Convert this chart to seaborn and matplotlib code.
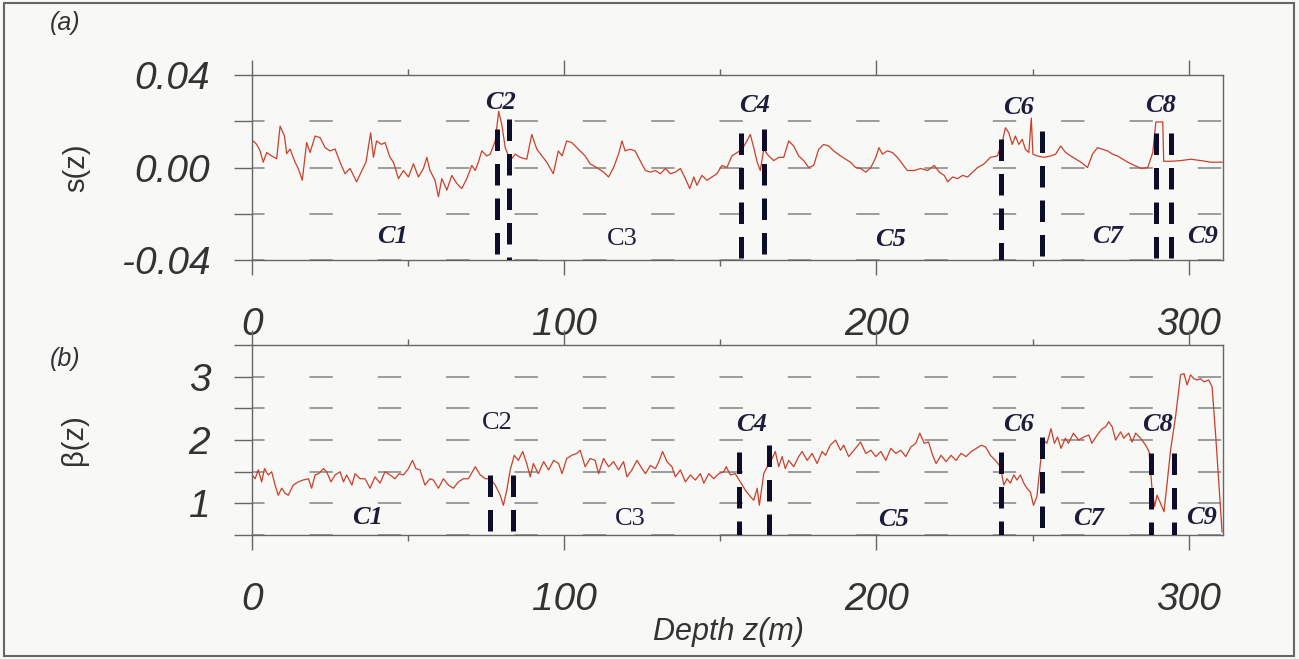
import matplotlib
matplotlib.use("Agg")
import matplotlib.pyplot as plt
import seaborn as sns
from matplotlib.patches import Rectangle

sns.set_style("ticks")
plt.rcParams['font.family'] = ['Liberation Sans', 'DejaVu Sans']

# (a) s(z)
depth_a = [0.0, 0.4, 1.5, 2.6, 3.6, 4.7, 6.3, 7.9, 9.0, 10.4, 11.1, 12.2, 13.8, 14.8, 16.1, 17.5,
           18.6, 20.2, 21.8, 23.4, 25.0, 26.6, 28.2, 29.8, 31.4, 33.5, 35.2, 36.5, 38.0, 38.9, 39.9,
           41.5, 42.6, 44.2, 45.3, 46.9, 48.5, 50.1, 51.7, 53.3, 54.9, 56.0, 57.0, 58.6, 59.7, 60.8,
           62.4, 64.0, 65.6, 67.2, 68.8, 70.4, 71.5, 72.5, 73.6, 75.2, 76.3, 77.9, 79.0, 80.0, 81.1,
           82.7, 84.3, 85.9, 88.0, 89.6, 91.2, 92.8, 94.4, 96.5, 98.1, 99.3, 100.8, 102.4, 103.5,
           105.1, 106.7, 108.3, 110.4, 112.6, 114.2, 115.8, 117.4, 118.5, 119.5, 121.1, 122.7, 124.3,
           126.0, 127.6, 129.2, 130.8, 132.4, 134.0, 135.6, 137.2, 138.8, 140.2, 141.5, 142.5, 144.1,
           145.7, 147.3, 148.9, 150.5, 152.1, 153.7, 155.4, 157.0, 158.5, 159.6, 160.7, 161.8, 162.8,
           163.9, 165.5, 167.1, 168.7, 170.3, 171.9, 173.5, 175.1, 176.7, 178.3, 179.9, 181.5, 183.1,
           184.7, 186.3, 188.5, 190.1, 191.7, 193.3, 194.9, 196.6, 198.2, 199.8, 200.8, 201.9, 203.5,
           205.1, 206.7, 208.3, 209.9, 212.1, 214.2, 216.4, 218.5, 220.1, 221.7, 222.8, 224.4, 226.0,
           227.6, 229.2, 230.8, 232.4, 234.4, 236.5, 238.7, 240.3, 241.3, 242.4, 243.5, 244.5, 245.6,
           246.7, 247.7, 248.8, 249.6, 250.1, 251.5, 253.7, 255.8, 257.4, 259.0, 260.6, 262.2, 263.9,
           265.5, 267.6, 269.2, 270.8, 272.4, 274.0, 275.6, 277.2, 278.9, 280.5, 282.6, 284.8, 286.9,
           288.5, 289.5, 291.7, 292.0, 294.3, 297.5, 300.7, 303.9, 307.1, 310.8]
s_a = [0.0105, 0.0115, 0.010, 0.0072, 0.0023, 0.0065, 0.005, 0.0038, 0.0179, 0.0136, 0.006, 0.008,
       0.0023, -0.0004, -0.0055, 0.0108, 0.0065, 0.0136, 0.0129, 0.0086, 0.0072, 0.008, 0.0023,
       -0.0027, -0.0004, -0.0062, -0.0013, 0.0023, 0.015, 0.0044, 0.0115, 0.010, 0.0108, 0.0044,
       0.0023, -0.0048, -0.0013, -0.0041, 0.0016, -0.0041, -0.0004, 0.0044, -0.0013, -0.0055,
       -0.0126, -0.0048, -0.0098, -0.0034, -0.0069, -0.0091, -0.0048, 0.0009, -0.0013, 0.0023,
       0.0072, 0.005, 0.0058, 0.0115, 0.0243, 0.0186, 0.0086, 0.003, 0.0058, 0.0044, 0.0036, 0.0143,
       0.008, 0.0051, 0.0023, -0.0027, 0.0072, 0.005, 0.0115, 0.0108, 0.0093, 0.0072, 0.005, 0.0016,
       0.0, -0.002, -0.0041, 0.0, 0.0058, 0.0115, 0.0072, 0.0079, 0.0072, 0.003, -0.0013, -0.002,
       -0.0013, -0.0027, -0.0004, -0.0027, -0.002, -0.0004, -0.0048, -0.0091, -0.0041, -0.0077,
       -0.0034, -0.0055, -0.0041, -0.0027, 0.0009, 0.0, 0.005, 0.0065, 0.0079, 0.0115, 0.0143,
       0.0086, 0.0023, -0.0013, 0.0079, 0.005, 0.003, 0.0044, 0.0044, 0.0115, 0.0093, 0.005, 0.003,
       0.0, 0.0009, 0.0079, 0.010, 0.0093, 0.0072, 0.005, 0.0036, 0.0023, 0.0, -0.0004, -0.002, 0.0,
       0.0044, 0.0086, 0.0058, 0.0072, 0.0065, 0.0044, 0.0016, -0.0013, -0.0013, -0.0004, -0.0013,
       0.0009, -0.002, -0.0034, -0.0062, -0.0041, -0.0048, -0.0034, -0.0041, -0.002, 0.0, 0.0015,
       0.0044, 0.005, 0.0108, 0.0172, 0.015, 0.010, 0.0136, 0.010, 0.0122, 0.0079, 0.0065, 0.0214,
       0.0058, 0.005, 0.0044, 0.005, 0.0058, 0.0093, 0.0065, 0.005, 0.0036, 0.0023, 0.0, 0.0058,
       0.0086, 0.0079, 0.0072, 0.0058, 0.005, 0.0036, 0.0023, 0.0009, -0.0004, 0.0, 0.0065, 0.0197,
       0.0197, 0.0027, 0.0027, 0.003, 0.0036, 0.003, 0.0023, 0.0023]

# (b) beta(z)
depth_b = [0.0, 1.0, 2.0, 3.1, 4.0, 5.2, 6.3, 7.4, 8.4, 9.5, 10.6, 11.6, 13.2, 14.8, 16.4, 18.1,
           19.1, 20.2, 21.3, 22.9, 23.9, 25.3, 26.6, 28.2, 29.3, 30.3, 32.0, 33.0, 34.6, 36.2, 37.8,
           39.4, 41.0, 42.6, 44.2, 45.8, 47.1, 48.5, 50.1, 51.4, 52.5, 53.8, 55.4, 57.0, 58.1, 59.7,
           61.3, 62.9, 64.5, 66.1, 67.7, 69.3, 71.5, 73.1, 74.7, 76.3, 77.9, 79.5, 80.5, 81.6, 82.7,
           84.0, 85.3, 86.7, 88.0, 89.1, 90.1, 91.7, 93.4, 95.0, 96.6, 98.2, 99.3, 100.8, 102.4, 104.0,
           105.1, 106.7, 108.3, 109.9, 111.0, 112.6, 114.2, 115.8, 117.4, 119.0, 120.1, 121.7, 123.3,
           124.9, 126.0, 127.6, 129.2, 130.3, 131.5, 132.9, 134.5, 135.6, 137.2, 138.8, 140.4, 142.0,
           143.6, 144.7, 146.3, 147.9, 149.5, 151.1, 151.9, 153.2, 154.8, 156.4, 158.0, 159.6, 160.7,
           161.8, 162.5, 163.9, 165.5, 166.6, 167.6, 168.7, 169.8, 170.8, 171.9, 173.5, 175.1, 176.2,
           177.8, 179.4, 181.0, 182.6, 183.7, 185.2, 186.9, 188.5, 189.5, 191.1, 192.8, 194.9, 196.6,
           198.2, 199.8, 201.4, 203.0, 204.6, 206.2, 207.8, 209.4, 211.0, 212.6, 213.9, 215.3, 216.7,
           218.0, 219.1, 220.7, 222.3, 223.9, 225.5, 227.1, 228.7, 230.4, 232.0, 233.6, 235.0, 236.5,
           238.1, 239.7, 240.8, 241.8, 242.9, 244.0, 245.0, 246.1, 247.2, 248.2, 249.3, 250.3, 251.4,
           252.5, 253.5, 254.6, 255.9, 257.0, 258.0, 259.1, 260.5, 261.5, 263.1, 264.8, 266.4, 268.0,
           269.0, 270.7, 272.3, 273.4, 274.4, 275.5, 276.6, 278.2, 279.2, 280.8, 281.9, 283.0, 284.6,
           286.2, 287.3, 288.3, 289.1, 289.9, 291.0, 292.1, 293.1, 294.2, 295.8, 297.4, 298.5, 299.5,
           300.6, 301.7, 302.7, 303.8, 304.9, 306.4, 307.5, 308.6, 309.6, 310.7]
beta_b = [1.45, 1.39, 1.53, 1.34, 1.55, 1.45, 1.50, 1.29, 1.13, 1.24, 1.16, 1.13, 1.29, 1.34, 1.37,
          1.39, 1.24, 1.45, 1.47, 1.55, 1.50, 1.34, 1.45, 1.50, 1.34, 1.45, 1.29, 1.47, 1.39, 1.39,
          1.24, 1.42, 1.32, 1.50, 1.45, 1.39, 1.47, 1.45, 1.55, 1.68, 1.55, 1.53, 1.29, 1.39, 1.37,
          1.24, 1.39, 1.29, 1.24, 1.34, 1.39, 1.39, 1.58, 1.45, 1.39, 1.39, 1.29, 1.13, 0.97, 1.21,
          1.53, 1.76, 1.68, 1.82, 1.63, 1.42, 1.63, 1.47, 1.66, 1.53, 1.68, 1.63, 1.47, 1.71, 1.76,
          1.79, 1.84, 1.58, 1.71, 1.68, 1.47, 1.71, 1.58, 1.66, 1.53, 1.66, 1.42, 1.53, 1.68, 1.55,
          1.47, 1.60, 1.55, 1.66, 1.82, 1.66, 1.58, 1.42, 1.53, 1.34, 1.45, 1.37, 1.47, 1.32, 1.47,
          1.39, 1.47, 1.50, 1.58, 1.45, 1.47, 1.34, 1.21, 1.11, 1.05, 1.24, 0.97, 1.47, 1.63, 1.71,
          1.82, 1.58, 1.74, 1.55, 1.68, 1.58, 1.74, 1.82, 1.68, 1.79, 1.63, 1.82, 1.76, 1.92, 2.0,
          1.84, 1.92, 1.74, 1.84, 1.97, 1.79, 1.84, 1.74, 1.82, 1.68, 1.87, 1.79, 1.84, 1.74, 1.89,
          1.95, 2.11, 1.95, 1.97, 1.76, 1.63, 1.76, 1.66, 1.76, 1.68, 1.79, 1.74, 1.82, 1.87, 1.92,
          1.89, 1.76, 1.68, 1.58, 1.29, 1.39, 1.32, 1.45, 1.37, 1.45, 1.32, 1.24, 1.18, 0.97, 1.11,
          1.63, 2.0, 1.95, 2.18, 1.95, 2.05, 1.87, 2.03, 1.95, 2.11, 2.0, 2.05, 2.08, 1.95, 2.08, 2.18,
          2.21, 2.29, 2.21, 2.0, 2.13, 2.03, 2.11, 1.97, 2.11, 2.03, 1.92, 1.82, 1.21, 0.95, 1.13, 1.0,
          0.87, 1.32, 1.84, 2.37, 3.03, 3.05, 2.87, 3.03, 2.97, 2.95, 2.97, 2.92, 2.95, 2.84, 2.11,
          1.37, 0.55]

# cluster boundaries (depth, top of dashed line)
bounds_a = [78.4, 82.2, 156.7, 163.9, 240.0, 253.1, 289.4, 294.2]
bound_tops_a = [0.0166, 0.021, 0.015, 0.0166, 0.0123, 0.0157, 0.015, 0.015]
bounds_b = [76.3, 83.6, 156.1, 165.5, 239.9, 253.1, 288.0, 295.3]
bound_tops_b = [1.45, 1.45, 1.82, 1.92, 1.82, 2.05, 1.79, 1.79]

# cluster names and where they sit
names = ['C1', 'C2', 'C3', 'C4', 'C5', 'C6', 'C7', 'C8', 'C9']
name_z_a = [45, 79.5, 118.6, 161, 204.5, 245.5, 274, 291, 304.5]
name_y_a = [-0.030, 0.028, -0.031, 0.027, -0.031, 0.026, -0.030, 0.027, -0.030]
plain_a = ['C3']
name_z_b = [37, 78.5, 121, 160, 205.5, 245.5, 268, 290, 304]
name_y_b = [0.78, 2.27, 0.76, 2.25, 0.75, 2.25, 0.77, 2.25, 0.78]
plain_b = ['C2', 'C3']

bg = '#f8f8f6'
fig = plt.figure(figsize=(12.99, 6.59), dpi=100, facecolor=bg)
ax_a = fig.add_axes([0.194, 0.6055, 0.7475, 0.2806])
ax_b = fig.add_axes([0.194, 0.188, 0.7475, 0.2883])


def style_axis(ax, ylim, yticks, ylabels, ylabel, label_x):
    ax.set_facecolor(bg)
    ax.set_xlim(0, 311)
    ax.set_ylim(*ylim)
    ax.set_xticks([0, 100, 200, 300])
    ax.set_xticklabels(['0', '100', '200', '300'])
    ax.set_xticks([50, 150, 250], minor=True)
    ax.set_yticks(yticks)
    ax.set_yticklabels(ylabels)
    ax.tick_params(axis='x', which='major', direction='out', length=11, width=1,
                   top=True, bottom=True, labelsize=28, pad=23, color='#666', labelcolor='#333')
    ax.tick_params(axis='x', which='minor', direction='out', length=4, width=1,
                   top=True, bottom=True, color='#666')
    ax.tick_params(axis='y', direction='out', length=13, width=1, labelsize=28, pad=17,
                   color='#666', labelcolor='#333')
    for lbl in ax.get_xticklabels() + ax.get_yticklabels():
        lbl.set_style('italic')
    for sp in ax.spines.values():
        sp.set_color('#666')
        sp.set_linewidth(1)
    ax.grid(axis='y', color='#8c8c8c', lw=1.2, linestyle=(6.5, (14, 27)))
    ax.set_xlabel('')
    ax.set_ylabel(ylabel, fontsize=21, color='#333')
    ax.yaxis.set_label_coords(label_x, 0.5)


def draw_names(ax, zs, ys, plain):
    for name, z, y in zip(names, zs, ys):
        if name in plain:
            ax.text(z, y, name, family=['Liberation Serif'], fontsize=19,
                    ha='center', va='center', color='#1c1c3c')
        else:
            ax.text(z, y, name, family=['Liberation Serif'], fontsize=19, weight='bold',
                    style='italic', ha='center', va='center', color='#1c1c3c')


def draw_bounds(ax, zs, tops, bottom):
    for z, top in zip(zs, tops):
        ax.plot([z, z], [top, bottom], color='#0d0d2b', lw=3.6,
                linestyle=(0, (4.3, 2.6)), zorder=4)


# (a)
sns.lineplot(x=depth_a, y=s_a, ax=ax_a, color='#c9402a', lw=0.9, estimator=None, sort=False)
style_axis(ax_a, (-0.04, 0.04), [-0.04, -0.02, 0.0, 0.02, 0.04],
           ['-0.04', '', '0.00', '', '0.04'], 's(z)', -0.167)
draw_bounds(ax_a, bounds_a, bound_tops_a, -0.04)
draw_names(ax_a, name_z_a, name_y_a, plain_a)

# (b)
sns.lineplot(x=depth_b, y=beta_b, ax=ax_b, color='#c9402a', lw=0.9, estimator=None, sort=False)
style_axis(ax_b, (0.5, 3.5), [0.5, 1.0, 1.5, 2.0, 2.5, 3.0, 3.5],
           ['', '1', '', '2', '', '3', ''], 'β(z)', -0.169)
draw_bounds(ax_b, bounds_b, bound_tops_b, 0.5)
draw_names(ax_b, name_z_b, name_y_b, plain_b)

fig.text(0.05, 0.965, '(a)', style='italic', fontsize=18, color='#333', ha='center', va='center')
fig.text(0.05, 0.455, '(b)', style='italic', fontsize=18, color='#333', ha='center', va='center')
fig.text(0.5604, 0.041, 'Depth z(m)', style='italic', fontsize=22, color='#333',
         ha='center', va='center')

fig.patches.append(Rectangle((0.003, 0.005), 0.993, 0.99, transform=fig.transFigure,
                             fill=False, ec='#666', lw=1.5))

fig.savefig('out.png', dpi=100, facecolor=bg)
